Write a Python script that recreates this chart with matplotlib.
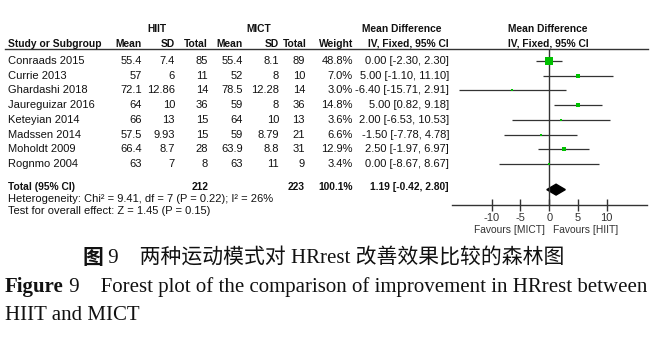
import numpy as np
import matplotlib
matplotlib.use("Agg")
import matplotlib.pyplot as plt
from matplotlib.patches import Polygon

plt.rcParams['axes.unicode_minus'] = False

# study-level data
studies = ["Conraads 2015", "Currie 2013", "Ghardashi 2018", "Jaureguizar 2016",
           "Keteyian 2014", "Madssen 2014", "Moholdt 2009", "Rognmo 2004"]
hiit_mean = [55.4, 57, 72.1, 64, 66, 57.5, 66.4, 63]
hiit_sd = [7.4, 6, 12.86, 10, 13, 9.93, 8.7, 7]
hiit_n = [85, 11, 14, 36, 15, 15, 28, 8]
mict_mean = [55.4, 52, 78.5, 59, 64, 59, 63.9, 63]
mict_sd = [8.1, 8, 12.28, 8, 10, 8.79, 8.8, 11]
mict_n = [89, 10, 14, 36, 13, 21, 31, 9]
weight = [48.8, 7.0, 3.0, 14.8, 3.6, 6.6, 12.9, 3.4]
md = [0.00, 5.00, -6.40, 5.00, 2.00, -1.50, 2.50, 0.00]
ci_lo = [-2.30, -1.10, -15.71, 0.82, -6.53, -7.78, -1.97, -8.67]
ci_hi = [2.30, 11.10, 2.91, 9.18, 10.53, 4.78, 6.97, 8.67]

# pooled estimate
total_md, total_lo, total_hi = 1.19, -0.42, 2.80
total_hiit_n, total_mict_n = 212, 223
heterogeneity = "Heterogeneity: Chi² = 9.41, df = 7 (P = 0.22); I² = 26%"
overall_test = "Test for overall effect: Z = 1.45 (P = 0.15)"
ticks = [-10, -5, 0, 5, 10]

W, H = 663, 337
ROW0, PITCH = 61, 14.7
TOTAL_ROW = 8.75

def ypx(r):
    return ROW0 + PITCH * r

sans = 'Liberation Sans'
dark = '#333333'
green = '#00c000'

fig = plt.figure(figsize=(W / 100, H / 100), dpi=100)
tab = fig.add_axes([0, 0, 1, 1])
tab.set_xlim(0, W)
tab.set_ylim(H, 0)
tab.axis('off')

def txt(x, y, s, ha='right', bold=False, size=8.0, color='#111111'):
    tab.text(x, y, s, ha=ha, va='center', family=sans, fontsize=size,
             fontweight='bold' if bold else 'normal', color=color)

# header
hb = 7.4
txt(157, 29, "HIIT", ha='center', bold=True, size=hb)
txt(259, 29, "MICT", ha='center', bold=True, size=hb)
txt(402, 29, "Mean Difference", ha='center', bold=True, size=hb)
txt(548, 29, "Mean Difference", ha='center', bold=True, size=hb)
txt(8, 44, "Study or Subgroup", ha='left', bold=True, size=hb)
for x, s in [(142, "Mean"), (175, "SD"), (208, "Total"), (243, "Mean"),
             (279, "SD"), (307, "Total"), (353, "Weight"), (449, "IV, Fixed, 95% CI")]:
    txt(x, 44, s, bold=True, size=hb)
txt(548, 44, "IV, Fixed, 95% CI", ha='center', bold=True, size=hb)
tab.plot([5, 648], [48.5, 48.5], color=dark, lw=1.0)

# study rows
for i, name in enumerate(studies):
    y = ypx(i)
    txt(8, y, name, ha='left')
    txt(142, y, f"{hiit_mean[i]:g}")
    txt(175, y, f"{hiit_sd[i]:g}")
    txt(208, y, f"{hiit_n[i]}")
    txt(243, y, f"{mict_mean[i]:g}")
    txt(279, y, f"{mict_sd[i]:g}")
    txt(305, y, f"{mict_n[i]}")
    txt(353, y, f"{weight[i]:.1f}%")
    txt(449, y, f"{md[i]:.2f} [{ci_lo[i]:.2f}, {ci_hi[i]:.2f}]")

# pooled row
yt = ypx(TOTAL_ROW) - 3
txt(8, yt, "Total (95% CI)", ha='left', bold=True, size=hb)
txt(208, yt, f"{total_hiit_n}", bold=True, size=hb)
txt(305, yt, f"{total_mict_n}", bold=True, size=hb)
txt(353, yt, f"{sum(weight):.1f}%", bold=True, size=hb)
txt(449, yt, f"{total_md:.2f} [{total_lo:.2f}, {total_hi:.2f}]", bold=True, size=hb)
txt(8, 198.5, heterogeneity, ha='left')
txt(8, 211.5, overall_test, ha='left')

# forest panel
x0, x1, ytop, ybot = 452, 647, 48.5, 204.5
fx = fig.add_axes([x0 / W, 1 - ybot / H, (x1 - x0) / W, (ybot - ytop) / H])
fx.set_facecolor('none')
fx.set_xlim(-16.9, 17.0)
fx.set_ylim((ybot - ROW0) / PITCH, (ytop - ROW0) / PITCH)
for s in ['top', 'left', 'right']:
    fx.spines[s].set_visible(False)
fx.spines['bottom'].set_color(dark)
fx.spines['bottom'].set_linewidth(1.0)
fx.set_yticks([])
fx.set_xticks(ticks)
fx.set_xticklabels([str(t) for t in ticks], family=sans, fontsize=8, color=dark)
fx.tick_params(axis='x', direction='inout', length=8, width=1.0, color=dark, pad=2)
fx.axvline(0, color=dark, lw=1.0)

rows = np.arange(len(studies))
fx.hlines(rows, ci_lo, ci_hi, color=dark, lw=0.9)
for i in rows:
    side = max(8 * np.sqrt(weight[i] / max(weight)), 2.2) * 0.72
    fx.plot(md[i], i, 's', ms=side, color=green, mec=green, mew=0)

# pooled diamond
h = 0.37
fx.add_patch(Polygon([(total_lo, TOTAL_ROW), (total_md, TOTAL_ROW - h),
                      (total_hi, TOTAL_ROW), (total_md, TOTAL_ROW + h)],
                     closed=True, color='black'))

txt(545, 230, "Favours [MICT]", size=7.4, color=dark)
txt(553, 230, "Favours [HIIT]", ha='left', size=7.4, color=dark)

# captions
cjk = ['Liberation Serif', 'Noto Sans CJK SC']
t = tab.text(82, 258, "图", ha='left', va='center', family=['Noto Sans CJK SC'],
             fontsize=15, fontweight='bold', color='#111111')
tab.annotate(" 9    两种运动模式对 HRrest 改善效果比较的森林图", xy=(1, 0.5),
             xycoords=t, ha='left', va='center', family=cjk, fontsize=15,
             color='#111111')

t2 = tab.text(5, 287, "Figure", ha='left', va='center', family='Liberation Serif',
              fontsize=15, fontweight='bold', color='#111111')
tab.annotate(" 9    Forest plot of the comparison of improvement in HRrest between",
             xy=(1, 0.5), xycoords=t2, ha='left', va='center',
             family='Liberation Serif', fontsize=15, color='#111111')
tab.text(5, 315, "HIIT and MICT", ha='left', va='center', family='Liberation Serif',
         fontsize=15, color='#111111')

fig.savefig('out.png', dpi=100)
